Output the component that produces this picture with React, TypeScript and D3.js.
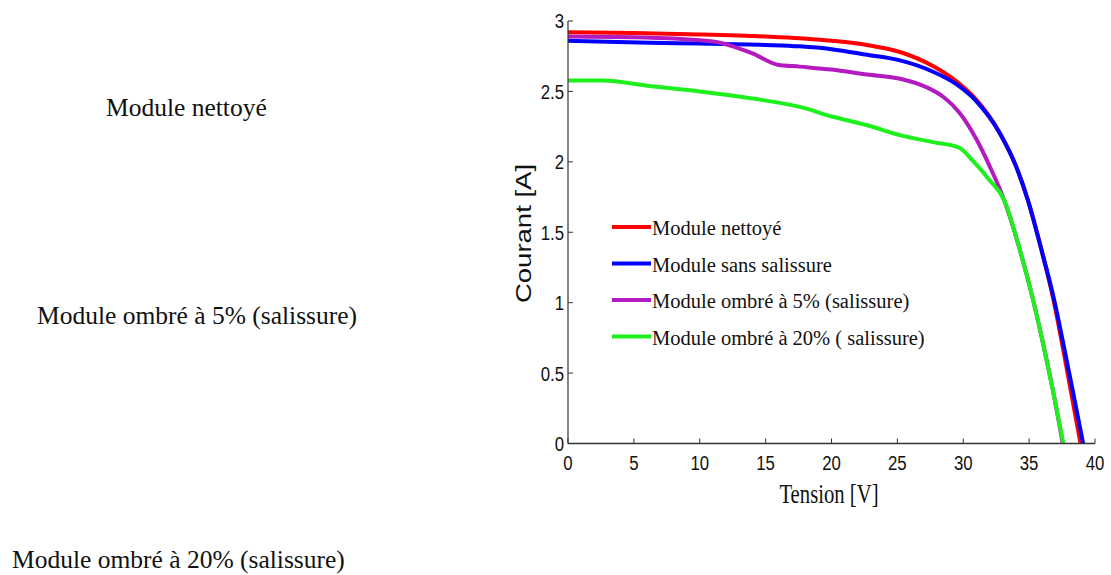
import React from "react";
import * as d3 from "d3";

const xTicks = [0, 5, 10, 15, 20, 25, 30, 35, 40];
const yTicks = [0, 0.5, 1, 1.5, 2, 2.5, 3];

const redV = [0, 5, 10, 15, 17.6, 20, 22.7, 25.2, 27.7, 29.5, 31, 32.8, 34, 34.9, 35.95, 36.85, 37.6, 38.15, 38.9];
const redI = [2.92, 2.915, 2.905, 2.89, 2.878, 2.86, 2.83, 2.78, 2.68, 2.57, 2.44, 2.2, 1.97, 1.73, 1.37, 1.02, 0.66, 0.38, 0];

const blueV = [0, 6.2, 10, 15, 17.6, 20, 22.7, 25.2, 27.7, 29.5, 31, 32.8, 34, 34.9, 35.95, 36.9, 37.7, 38.3, 39.1];
const blueI = [2.86, 2.845, 2.84, 2.83, 2.82, 2.8, 2.76, 2.72, 2.64, 2.55, 2.43, 2.2, 1.97, 1.73, 1.37, 1.02, 0.66, 0.38, 0];

const purpleV = [0, 5, 11, 14, 15.9, 17.6, 20, 22.7, 25.2, 27.2, 28.5, 29.7, 31, 32, 33.1, 34.3, 35.3, 36.0, 36.8, 37.55];
const purpleI = [2.89, 2.885, 2.855, 2.77, 2.69, 2.676, 2.655, 2.62, 2.59, 2.53, 2.46, 2.35, 2.16, 1.97, 1.73, 1.374, 1.02, 0.735, 0.38, 0];

const greenV = [0, 2.7, 6, 10, 14, 17.6, 20.1, 22.7, 25.2, 27.7, 29.7, 30.7, 32, 33.1, 34.3, 35.3, 36.0, 36.8, 37.6];
const greenI = [2.577, 2.577, 2.54, 2.5, 2.45, 2.39, 2.32, 2.26, 2.19, 2.14, 2.1, 2.01, 1.87, 1.73, 1.374, 1.02, 0.735, 0.38, 0];

const seriesNames = [
  "Module nettoyé",
  "Module sans salissure",
  "Module ombré à 5% (salissure)",
  "Module ombré à 20% ( salissure)",
];
const seriesColors = ["#ff0000", "#0000ff", "#b31bc0", "#1ef01e"];
const sideLabels = ["Module nettoyé", "Module ombré à 5% (salissure)", "Module ombré à 20% (salissure)"];

export default function App() {
  const x = d3.scaleLinear().domain([0, 40]).range([568, 1095]);
  const y = d3.scaleLinear().domain([0, 3]).range([443.5, 21]);
  const line = d3
    .line<[number, number]>()
    .x((d) => x(d[0]))
    .y((d) => y(d[1]))
    .curve(d3.curveMonotoneX);
  const series = [
    redV.map((v, i) => [v, redI[i]] as [number, number]),
    blueV.map((v, i) => [v, blueI[i]] as [number, number]),
    purpleV.map((v, i) => [v, purpleI[i]] as [number, number]),
    greenV.map((v, i) => [v, greenI[i]] as [number, number]),
  ];
  const serif = "'Liberation Serif', 'Times New Roman', serif";
  const sans = "'Liberation Sans', Arial, sans-serif";
  const sx = (cx: number, s: number) => `translate(${cx},0) scale(${s},1) translate(${-cx},0)`;
  return (
    <div style={{ position: "absolute", left: 0, top: 0 }}>
      <svg width={1111} height={575} style={{ display: "block", background: "#fff" }}>
        {/* side labels */}
        <text x={106} y={116} fontFamily={serif} fontSize={25.5} fill="#111">{sideLabels[0]}</text>
        <text x={37} y={324} fontFamily={serif} fontSize={25.5} fill="#111">{sideLabels[1]}</text>
        <text x={12} y={568} fontFamily={serif} fontSize={25.5} fill="#111">{sideLabels[2]}</text>

        {/* curves */}
        {series.map((s, i) => (
          <path key={i} d={line(s) || ""} fill="none" stroke={seriesColors[i]} strokeWidth={4} strokeLinejoin="round" />
        ))}

        {/* axes */}
        <line x1={x(0)} x2={x(0)} y1={y(0)} y2={y(3)} stroke="#333" strokeWidth={1.2} />
        <line x1={x(0)} x2={x(40)} y1={y(0)} y2={y(0)} stroke="#333" strokeWidth={1.5} />
        {xTicks.map((t) => (
          <g key={"x" + t}>
            <line x1={x(t)} x2={x(t)} y1={y(0)} y2={y(0) - 5} stroke="#333" strokeWidth={1} />
            <text x={x(t)} y={y(0) + 26.5} textAnchor="middle" fontFamily={sans} fontSize={21} fill="#111"
              transform={sx(x(t), 0.8)}>{t}</text>
          </g>
        ))}
        {yTicks.map((t) => (
          <g key={"y" + t}>
            <line x1={x(0)} x2={x(0) + 5} y1={y(t)} y2={y(t)} stroke="#333" strokeWidth={1} />
            <text x={x(0) - 4} y={y(t) + 7.5} textAnchor="end" fontFamily={sans} fontSize={21} fill="#111"
              transform={sx(x(0) - 4, 0.8)}>{t}</text>
          </g>
        ))}
        <text x={829} y={503} textAnchor="middle" fontFamily={serif} fontSize={28} fill="#111"
          transform={sx(829, 0.74)}>Tension [V]</text>
        <text transform="translate(531,233.5) rotate(-90) scale(1.25,1)" textAnchor="middle" fontFamily={sans} fontSize={22} fill="#111">Courant [A]</text>

        {/* legend */}
        {seriesNames.map((n, i) => (
          <g key={n}>
            <line x1={612} x2={651} y1={227 + i * 36.5} y2={227 + i * 36.5} stroke={seriesColors[i]} strokeWidth={4} />
            <text x={652} y={235 + i * 36.5} fontFamily={serif} fontSize={20.5} fill="#111">{n}</text>
          </g>
        ))}
      </svg>
    </div>
  );
}
